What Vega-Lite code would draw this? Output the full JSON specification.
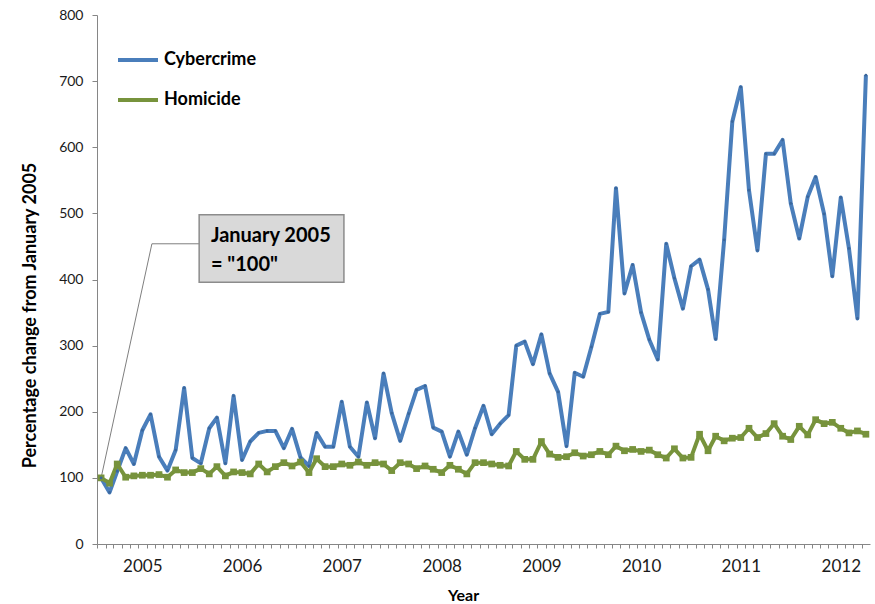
{
  "$schema": "https://vega.github.io/schema/vega-lite/v6.json",
  "width": 773,
  "height": 529,
  "autosize": "none",
  "padding": {"left": 97, "top": 15, "right": 5, "bottom": 60},
  "background": "white",
  "config": {
    "view": {"stroke": null},
    "font": "Lato",
    "axis": {"grid": false, "domainColor": "#868686", "tickColor": "#868686", "labelColor": "#1a1a1a", "titleColor": "#000000", "labelFont": "Lato", "titleFont": "Lato"}
  },
  "datasets": {
    "series": [
      {"date":"2005-01-01","series":"Cybercrime","value":100},{"date":"2005-02-01","series":"Cybercrime","value":78},{"date":"2005-03-01","series":"Cybercrime","value":110},{"date":"2005-04-01","series":"Cybercrime","value":145},{"date":"2005-05-01","series":"Cybercrime","value":121},{"date":"2005-06-01","series":"Cybercrime","value":172},{"date":"2005-07-01","series":"Cybercrime","value":196},{"date":"2005-08-01","series":"Cybercrime","value":132},{"date":"2005-09-01","series":"Cybercrime","value":111},{"date":"2005-10-01","series":"Cybercrime","value":142},{"date":"2005-11-01","series":"Cybercrime","value":236},{"date":"2005-12-01","series":"Cybercrime","value":130},
      {"date":"2006-01-01","series":"Cybercrime","value":122},{"date":"2006-02-01","series":"Cybercrime","value":175},{"date":"2006-03-01","series":"Cybercrime","value":191},{"date":"2006-04-01","series":"Cybercrime","value":122},{"date":"2006-05-01","series":"Cybercrime","value":224},{"date":"2006-06-01","series":"Cybercrime","value":127},{"date":"2006-07-01","series":"Cybercrime","value":155},{"date":"2006-08-01","series":"Cybercrime","value":168},{"date":"2006-09-01","series":"Cybercrime","value":171},{"date":"2006-10-01","series":"Cybercrime","value":171},{"date":"2006-11-01","series":"Cybercrime","value":145},{"date":"2006-12-01","series":"Cybercrime","value":174},
      {"date":"2007-01-01","series":"Cybercrime","value":131},{"date":"2007-02-01","series":"Cybercrime","value":118},{"date":"2007-03-01","series":"Cybercrime","value":168},{"date":"2007-04-01","series":"Cybercrime","value":147},{"date":"2007-05-01","series":"Cybercrime","value":147},{"date":"2007-06-01","series":"Cybercrime","value":215},{"date":"2007-07-01","series":"Cybercrime","value":147},{"date":"2007-08-01","series":"Cybercrime","value":132},{"date":"2007-09-01","series":"Cybercrime","value":214},{"date":"2007-10-01","series":"Cybercrime","value":160},{"date":"2007-11-01","series":"Cybercrime","value":258},{"date":"2007-12-01","series":"Cybercrime","value":198},
      {"date":"2008-01-01","series":"Cybercrime","value":156},{"date":"2008-02-01","series":"Cybercrime","value":197},{"date":"2008-03-01","series":"Cybercrime","value":233},{"date":"2008-04-01","series":"Cybercrime","value":239},{"date":"2008-05-01","series":"Cybercrime","value":176},{"date":"2008-06-01","series":"Cybercrime","value":170},{"date":"2008-07-01","series":"Cybercrime","value":132},{"date":"2008-08-01","series":"Cybercrime","value":170},{"date":"2008-09-01","series":"Cybercrime","value":135},{"date":"2008-10-01","series":"Cybercrime","value":175},{"date":"2008-11-01","series":"Cybercrime","value":209},{"date":"2008-12-01","series":"Cybercrime","value":166},
      {"date":"2009-01-01","series":"Cybercrime","value":182},{"date":"2009-02-01","series":"Cybercrime","value":195},{"date":"2009-03-01","series":"Cybercrime","value":300},{"date":"2009-04-01","series":"Cybercrime","value":306},{"date":"2009-05-01","series":"Cybercrime","value":272},{"date":"2009-06-01","series":"Cybercrime","value":317},{"date":"2009-07-01","series":"Cybercrime","value":258},{"date":"2009-08-01","series":"Cybercrime","value":230},{"date":"2009-09-01","series":"Cybercrime","value":148},{"date":"2009-10-01","series":"Cybercrime","value":259},{"date":"2009-11-01","series":"Cybercrime","value":253},{"date":"2009-12-01","series":"Cybercrime","value":298},
      {"date":"2010-01-01","series":"Cybercrime","value":348},{"date":"2010-02-01","series":"Cybercrime","value":351},{"date":"2010-03-01","series":"Cybercrime","value":538},{"date":"2010-04-01","series":"Cybercrime","value":379},{"date":"2010-05-01","series":"Cybercrime","value":422},{"date":"2010-06-01","series":"Cybercrime","value":350},{"date":"2010-07-01","series":"Cybercrime","value":309},{"date":"2010-08-01","series":"Cybercrime","value":279},{"date":"2010-09-01","series":"Cybercrime","value":454},{"date":"2010-10-01","series":"Cybercrime","value":402},{"date":"2010-11-01","series":"Cybercrime","value":356},{"date":"2010-12-01","series":"Cybercrime","value":420},
      {"date":"2011-01-01","series":"Cybercrime","value":430},{"date":"2011-02-01","series":"Cybercrime","value":385},{"date":"2011-03-01","series":"Cybercrime","value":310},{"date":"2011-04-01","series":"Cybercrime","value":460},{"date":"2011-05-01","series":"Cybercrime","value":639},{"date":"2011-06-01","series":"Cybercrime","value":691},{"date":"2011-07-01","series":"Cybercrime","value":535},{"date":"2011-08-01","series":"Cybercrime","value":444},{"date":"2011-09-01","series":"Cybercrime","value":590},{"date":"2011-10-01","series":"Cybercrime","value":590},{"date":"2011-11-01","series":"Cybercrime","value":611},{"date":"2011-12-01","series":"Cybercrime","value":515},
      {"date":"2012-01-01","series":"Cybercrime","value":462},{"date":"2012-02-01","series":"Cybercrime","value":525},{"date":"2012-03-01","series":"Cybercrime","value":555},{"date":"2012-04-01","series":"Cybercrime","value":499},{"date":"2012-05-01","series":"Cybercrime","value":405},{"date":"2012-06-01","series":"Cybercrime","value":524},{"date":"2012-07-01","series":"Cybercrime","value":447},{"date":"2012-08-01","series":"Cybercrime","value":341},{"date":"2012-09-01","series":"Cybercrime","value":709},
      {"date":"2005-01-01","series":"Homicide","value":100},{"date":"2005-02-01","series":"Homicide","value":92},{"date":"2005-03-01","series":"Homicide","value":121},{"date":"2005-04-01","series":"Homicide","value":101},{"date":"2005-05-01","series":"Homicide","value":103},{"date":"2005-06-01","series":"Homicide","value":104},{"date":"2005-07-01","series":"Homicide","value":104},{"date":"2005-08-01","series":"Homicide","value":105},{"date":"2005-09-01","series":"Homicide","value":101},{"date":"2005-10-01","series":"Homicide","value":112},{"date":"2005-11-01","series":"Homicide","value":108},{"date":"2005-12-01","series":"Homicide","value":108},
      {"date":"2006-01-01","series":"Homicide","value":114},{"date":"2006-02-01","series":"Homicide","value":106},{"date":"2006-03-01","series":"Homicide","value":117},{"date":"2006-04-01","series":"Homicide","value":103},{"date":"2006-05-01","series":"Homicide","value":109},{"date":"2006-06-01","series":"Homicide","value":108},{"date":"2006-07-01","series":"Homicide","value":106},{"date":"2006-08-01","series":"Homicide","value":121},{"date":"2006-09-01","series":"Homicide","value":109},{"date":"2006-10-01","series":"Homicide","value":117},{"date":"2006-11-01","series":"Homicide","value":123},{"date":"2006-12-01","series":"Homicide","value":118},
      {"date":"2007-01-01","series":"Homicide","value":124},{"date":"2007-02-01","series":"Homicide","value":108},{"date":"2007-03-01","series":"Homicide","value":129},{"date":"2007-04-01","series":"Homicide","value":117},{"date":"2007-05-01","series":"Homicide","value":117},{"date":"2007-06-01","series":"Homicide","value":121},{"date":"2007-07-01","series":"Homicide","value":119},{"date":"2007-08-01","series":"Homicide","value":124},{"date":"2007-09-01","series":"Homicide","value":119},{"date":"2007-10-01","series":"Homicide","value":123},{"date":"2007-11-01","series":"Homicide","value":121},{"date":"2007-12-01","series":"Homicide","value":111},
      {"date":"2008-01-01","series":"Homicide","value":123},{"date":"2008-02-01","series":"Homicide","value":121},{"date":"2008-03-01","series":"Homicide","value":114},{"date":"2008-04-01","series":"Homicide","value":118},{"date":"2008-05-01","series":"Homicide","value":113},{"date":"2008-06-01","series":"Homicide","value":108},{"date":"2008-07-01","series":"Homicide","value":119},{"date":"2008-08-01","series":"Homicide","value":113},{"date":"2008-09-01","series":"Homicide","value":106},{"date":"2008-10-01","series":"Homicide","value":123},{"date":"2008-11-01","series":"Homicide","value":123},{"date":"2008-12-01","series":"Homicide","value":121},
      {"date":"2009-01-01","series":"Homicide","value":119},{"date":"2009-02-01","series":"Homicide","value":118},{"date":"2009-03-01","series":"Homicide","value":140},{"date":"2009-04-01","series":"Homicide","value":128},{"date":"2009-05-01","series":"Homicide","value":128},{"date":"2009-06-01","series":"Homicide","value":155},{"date":"2009-07-01","series":"Homicide","value":136},{"date":"2009-08-01","series":"Homicide","value":131},{"date":"2009-09-01","series":"Homicide","value":132},{"date":"2009-10-01","series":"Homicide","value":138},{"date":"2009-11-01","series":"Homicide","value":133},{"date":"2009-12-01","series":"Homicide","value":135},
      {"date":"2010-01-01","series":"Homicide","value":140},{"date":"2010-02-01","series":"Homicide","value":135},{"date":"2010-03-01","series":"Homicide","value":148},{"date":"2010-04-01","series":"Homicide","value":141},{"date":"2010-05-01","series":"Homicide","value":143},{"date":"2010-06-01","series":"Homicide","value":140},{"date":"2010-07-01","series":"Homicide","value":142},{"date":"2010-08-01","series":"Homicide","value":135},{"date":"2010-09-01","series":"Homicide","value":130},{"date":"2010-10-01","series":"Homicide","value":144},{"date":"2010-11-01","series":"Homicide","value":130},{"date":"2010-12-01","series":"Homicide","value":131},
      {"date":"2011-01-01","series":"Homicide","value":166},{"date":"2011-02-01","series":"Homicide","value":141},{"date":"2011-03-01","series":"Homicide","value":163},{"date":"2011-04-01","series":"Homicide","value":156},{"date":"2011-05-01","series":"Homicide","value":160},{"date":"2011-06-01","series":"Homicide","value":161},{"date":"2011-07-01","series":"Homicide","value":175},{"date":"2011-08-01","series":"Homicide","value":161},{"date":"2011-09-01","series":"Homicide","value":167},{"date":"2011-10-01","series":"Homicide","value":182},{"date":"2011-11-01","series":"Homicide","value":163},{"date":"2011-12-01","series":"Homicide","value":158},
      {"date":"2012-01-01","series":"Homicide","value":178},{"date":"2012-02-01","series":"Homicide","value":165},{"date":"2012-03-01","series":"Homicide","value":188},{"date":"2012-04-01","series":"Homicide","value":182},{"date":"2012-05-01","series":"Homicide","value":184},{"date":"2012-06-01","series":"Homicide","value":175},{"date":"2012-07-01","series":"Homicide","value":168},{"date":"2012-08-01","series":"Homicide","value":171},{"date":"2012-09-01","series":"Homicide","value":166}
    ],
    "leader": [
      {"date":"2005-01-01","value":100,"order":1},
      {"date":"2005-07-06","value":454,"order":2},
      {"date":"2005-12-26","value":454,"order":3}
    ],
    "box": [
      {"start":"2005-12-26","end":"2007-06-09","low":396,"high":498}
    ],
    "notes": [
      {"date":"2006-02-07","value":466,"text":"January 2005"},
      {"date":"2006-02-07","value":422,"text":"= \"100\""}
    ]
  },
  "layer": [
    {
      "data": {"name": "leader"},
      "mark": {"type": "line", "color": "#7f7f7f", "strokeWidth": 1},
      "encoding": {
        "x": {"field": "date", "type": "temporal"},
        "y": {"field": "value", "type": "quantitative"},
        "order": {"field": "order", "type": "quantitative"}
      }
    },
    {
      "data": {"name": "box"},
      "mark": {"type": "rect", "fill": "#d9d9d9", "stroke": "#8c8c8c", "strokeWidth": 1.5},
      "encoding": {
        "x": {"field": "start", "type": "temporal"},
        "x2": {"field": "end"},
        "y": {"field": "low", "type": "quantitative"},
        "y2": {"field": "high"}
      }
    },
    {
      "data": {"name": "notes"},
      "mark": {"type": "text", "align": "left", "baseline": "middle", "font": "Lato", "fontSize": 20, "fontWeight": "bold", "color": "#000000"},
      "encoding": {
        "x": {"field": "date", "type": "temporal"},
        "y": {"field": "value", "type": "quantitative"},
        "text": {"field": "text"}
      }
    },
    {
      "data": {"name": "series"},
      "mark": {"type": "line", "strokeWidth": 4, "strokeJoin": "round"},
      "encoding": {
        "x": {
          "field": "date", "type": "temporal",
          "scale": {"domain": [{"year": 2004, "month": 12, "date": 17}, {"year": 2012, "month": 9, "date": 16}], "nice": false},
          "axis": {
            "title": "Year",
            "titleFontSize": 16, "titleFontWeight": "bold",
            "titleX": 366, "titleY": 51, "titleBaseline": "middle",
            "tickCount": {"interval": "month", "step": 1},
            "tickSize": 4, "tickOffset": -4, "labelOffset": 4,
            "labelPadding": 10, "labelFontSize": 17,
            "labelOverlap": false, "labelBound": false, "labelFlush": false,
            "labelExpr": "month(datum.value) == 5 ? timeFormat(datum.value, '%Y') : ''"
          }
        },
        "y": {
          "field": "value", "type": "quantitative",
          "scale": {"domain": [0, 800], "nice": false},
          "axis": {
            "title": "Percentage change  from January 2005",
            "titleFontSize": 18, "titleFontWeight": "bold",
            "titleX": -67, "titleY": 300, "titleBaseline": "middle",
            "values": [0, 100, 200, 300, 400, 500, 600, 700, 800],
            "tickSize": 5, "labelPadding": 9, "labelFontSize": 14
          }
        },
        "color": {
          "field": "series", "type": "nominal",
          "scale": {"domain": ["Cybercrime", "Homicide"], "range": ["#4A7EBB", "#77933C"]},
          "legend": {
            "title": null, "orient": "none", "legendX": 19, "legendY": 23,
            "symbolType": "stroke", "symbolSize": 1600, "symbolStrokeWidth": 4,
            "labelFontSize": 18, "labelFontWeight": "bold", "labelFont": "Lato", "labelColor": "#000000",
            "labelOffset": 4, "rowPadding": 9
          }
        }
      }
    },
    {
      "data": {"name": "series"},
      "transform": [{"filter": "datum.series == 'Homicide'"}],
      "mark": {"type": "point", "shape": "square", "filled": true, "size": 45, "opacity": 1, "color": "#77933C"},
      "encoding": {
        "x": {"field": "date", "type": "temporal"},
        "y": {"field": "value", "type": "quantitative"}
      }
    },
    {
      "data": {"name": "series"},
      "transform": [{"filter": "datum.series == 'Cybercrime'"}],
      "mark": {"type": "point", "shape": "circle", "filled": true, "size": 8, "opacity": 1, "color": "#3b679c"},
      "encoding": {
        "x": {"field": "date", "type": "temporal"},
        "y": {"field": "value", "type": "quantitative"}
      }
    }
  ]
}
